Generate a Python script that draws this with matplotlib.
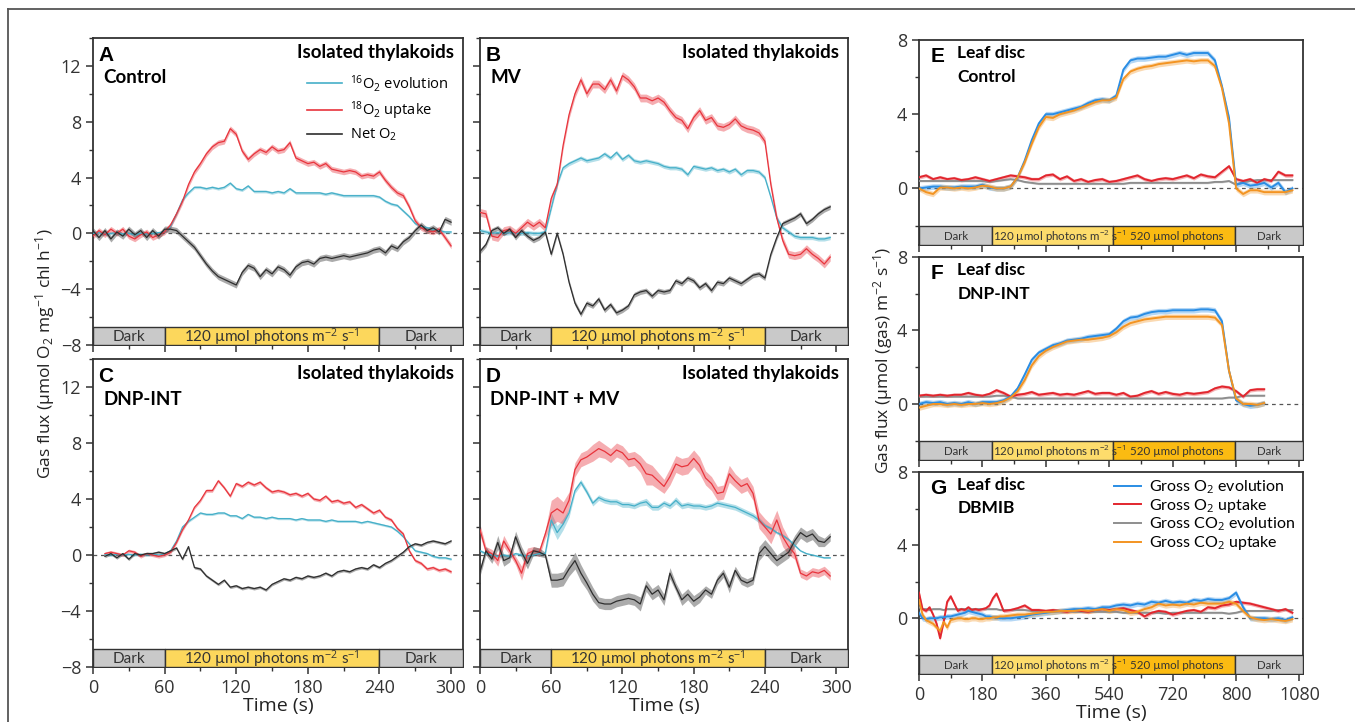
import numpy as np
import matplotlib
matplotlib.use("Agg")
import matplotlib.pyplot as plt
from matplotlib.ticker import MultipleLocator
from matplotlib.lines import Line2D

plt.rcParams["font.family"] = ["Open Sans", "DejaVu Sans"]
plt.rcParams["mathtext.fontset"] = "custom"
plt.rcParams["mathtext.rm"] = "Open Sans"
plt.rcParams["mathtext.it"] = "Open Sans:italic"
plt.rcParams["mathtext.bf"] = "Open Sans:bold"

# ---------------- isolated thylakoids (A-D), umol O2 mg-1 chl h-1 ----------------
t_a = np.arange(0, 301, 5)
a_evo = [0.0, 0.05, -0.05, 0.0, 0.05, -0.05, 0.0, -0.1, 0.0, -0.05, 0.0, 0.05,
         0.1, 0.5, 1.4, 2.4, 2.9, 3.3, 3.3, 3.2, 3.3, 3.2, 3.3, 3.6,
         3.2, 3.1, 3.4, 3.0, 3.0, 3.0, 2.9, 3.0, 2.9, 3.2, 2.9, 2.9,
         2.9, 2.9, 2.9, 2.8, 2.9, 2.8, 2.7, 2.7, 2.7, 2.7, 2.7, 2.7,
         2.6, 2.3, 2.1, 2.0, 1.6, 1.2, 0.7, 0.5, 0.4, 0.3, 0.2, 0.1, 0.1]
a_upt = [-0.2, 0.2, -0.1, 0.3, 0.0, 0.3, -0.2, -0.4, -0.1, 0.1, -0.3, -0.1,
         0.1, 0.6, 1.4, 2.3, 3.5, 4.4, 5.0, 5.7, 6.2, 6.5, 6.6, 7.5,
         7.1, 5.9, 5.3, 5.7, 6.0, 5.8, 6.2, 5.9, 6.0, 6.5, 5.4, 5.2,
         5.0, 5.1, 4.8, 5.0, 4.6, 4.5, 4.4, 4.5, 4.4, 4.1, 4.2, 4.1,
         4.4, 3.8, 3.3, 2.9, 2.7, 1.9, 0.9, 0.4, 0.2, 0.1, 0.3, -0.3, -0.9]
a_net = [0.2, -0.3, 0.2, -0.4, 0.1, -0.2, 0.3, -0.1, 0.2, -0.3, 0.2, -0.2,
         0.3, 0.3, 0.2, -0.2, -0.6, -1.0, -1.6, -2.2, -2.7, -3.1, -3.3, -3.5,
         -3.7, -2.8, -2.3, -2.5, -3.1, -2.6, -2.9, -2.4, -2.6, -3.0, -2.4, -2.1,
         -2.0, -2.2, -1.8, -1.7, -1.8, -1.7, -1.6, -1.7, -1.6, -1.5, -1.4, -1.2,
         -1.1, -1.4, -0.9, -1.1, -0.6, -0.3, 0.2, 0.6, 0.2, 0.4, 0.1, 1.0, 0.8]
a_se = [0.1, 0.2, 0.22]

t_b = np.arange(0, 296, 5)
b_evo = [0.2, 0.1, 0.0, 0.05, 0.0, 0.05, 0.0, 0.0, 0.05, 0.0, 0.0, 0.1,
         1.8, 3.5, 4.7, 5.0, 5.2, 5.4, 5.2, 5.3, 5.4, 5.7, 5.4, 5.8,
         5.3, 5.6, 5.2, 5.1, 5.2, 5.1, 5.0, 4.8, 4.7, 4.7, 4.6, 4.2,
         4.8, 4.7, 4.6, 4.7, 4.5, 4.6, 4.4, 4.6, 4.2, 4.5, 4.5, 4.4,
         4.0, 2.6, 1.1, 0.4, 0.1, -0.2, -0.3, -0.3, -0.3, -0.4, -0.4, -0.3]
b_upt = [1.5, 1.4, -0.2, -0.3, 0.2, 0.3, 0.0, 0.4, 0.8, 0.5, 0.8, 0.4,
         2.5, 3.5, 6.3, 8.5, 10.0, 11.0, 10.0, 10.7, 10.7, 10.3, 11.0, 10.2,
         11.3, 11.0, 10.5, 9.7, 9.7, 9.5, 9.7, 9.4, 8.8, 8.3, 8.1, 7.5,
         8.3, 8.8, 8.1, 8.3, 7.7, 7.6, 7.8, 8.2, 7.7, 7.5, 7.4, 7.2,
         6.6, 3.5, 1.1, -0.5, -1.5, -1.6, -1.5, -1.1, -1.5, -1.8, -2.2, -1.7]
b_net = [-1.3, -0.8, 0.2, 0.4, 0.0, 0.3, -0.3, 0.2, -0.2, -0.5, -0.3, 0.1,
         -1.5, 0.0, -1.5, -3.5, -5.0, -5.8, -5.0, -5.2, -4.7, -5.5, -5.1, -5.7,
         -5.5, -5.2, -4.4, -4.2, -4.1, -4.5, -4.1, -4.2, -4.1, -3.4, -3.6, -3.2,
         -3.4, -3.9, -3.6, -4.1, -3.5, -3.6, -3.2, -3.4, -3.6, -3.3, -3.0, -2.9,
         -3.2, -1.5, -0.3, 0.7, 0.9, 1.1, 1.4, 0.7, 1.0, 1.4, 1.7, 1.9]
b_se = [0.15, 0.28, 0.18]

t_c = np.arange(10, 301, 5)
c_evo = [0.05, 0.0, 0.05, 0.0, 0.05, 0.0, 0.05, 0.0, 0.05, 0.0,
         0.05, 0.3, 1.0, 2.0, 2.4, 2.7, 3.0, 2.9, 2.9, 3.0, 3.0, 2.8,
         2.8, 2.6, 2.9, 2.7, 2.7, 2.6, 2.7, 2.6, 2.6, 2.6, 2.5, 2.6,
         2.5, 2.5, 2.5, 2.4, 2.5, 2.4, 2.4, 2.4, 2.4, 2.3, 2.4, 2.3,
         2.2, 2.1, 2.0, 1.7, 1.3, 0.8, 0.3, 0.2, 0.1, -0.1, -0.2, -0.2, -0.3]
c_upt = [0.1, 0.2, 0.1, 0.0, 0.3, 0.2, -0.1, 0.1, 0.0, -0.1,
         0.0, 0.2, 0.9, 1.8, 2.5, 3.4, 3.9, 4.6, 4.6, 5.3, 4.8, 4.2,
         5.1, 4.9, 5.2, 5.0, 5.2, 4.8, 4.5, 4.6, 4.5, 4.3, 4.4, 4.2,
         4.4, 4.0, 3.9, 4.2, 3.8, 3.9, 3.7, 3.8, 3.4, 3.6, 3.3, 3.0,
         3.2, 2.7, 2.5, 1.9, 1.5, 0.3, -0.4, -0.6, -1.0, -0.9, -1.1, -1.0, -1.2]
c_net = [-0.1, 0.1, -0.2, 0.1, -0.3, 0.1, 0.0, 0.1, 0.1, 0.2,
         0.1, 0.3, 0.5, -0.3, 0.6, -0.9, -1.0, -1.5, -1.8, -2.1, -1.8, -2.3,
         -2.2, -2.4, -2.3, -2.4, -2.3, -2.5, -2.1, -1.9, -1.7, -1.8, -1.6, -1.7,
         -1.5, -1.6, -1.5, -1.3, -1.5, -1.2, -1.1, -1.2, -1.0, -0.9, -1.0, -0.7,
         -0.9, -0.6, -0.4, -0.1, 0.2, 0.6, 0.8, 0.7, 0.9, 1.0, 0.9, 0.8, 1.0]
c_se = [0.08, 0.12, 0.1]

t_d = np.arange(0, 296, 5)
d_evo = [0.3, 0.1, 0.0, -0.1, 0.0, -0.1, 0.1, 0.0, -0.1, 0.0, 0.1, 0.1,
         2.5, 1.6, 2.2, 3.0, 4.6, 5.2, 4.5, 3.7, 4.1, 3.9, 3.8, 3.8,
         3.6, 3.6, 3.5, 3.7, 3.8, 3.4, 3.4, 3.7, 3.5, 3.9, 3.5, 3.6,
         3.5, 3.5, 3.4, 3.5, 3.7, 3.6, 3.5, 3.4, 3.2, 3.0, 2.8, 2.5,
         2.1, 1.9, 1.6, 1.4, 1.1, 0.7, 0.3, 0.1, 0.0, -0.1, -0.2, -0.2]
d_upt = [1.8, 0.3, 0.1, -0.4, 1.0, 0.3, -0.4, -1.3, 0.1, 0.3, 0.2, 1.5,
         3.0, 3.3, 3.0, 3.9, 6.1, 6.8, 7.0, 7.3, 7.6, 7.4, 7.1, 7.5,
         7.3, 6.8, 6.9, 6.5, 5.8, 5.7, 5.3, 4.9, 5.6, 6.5, 6.3, 6.4,
         6.9, 6.4, 5.5, 5.1, 4.4, 4.5, 5.8, 5.3, 4.9, 5.1, 4.4, 2.5,
         2.0, 1.5, 2.5, 1.3, 0.6, 0.1, -1.3, -1.5, -1.2, -1.3, -1.1, -1.5]
d_net = [-1.2, 0.3, -0.3, 0.9, -0.4, -0.2, 1.3, 0.2, -0.6, 0.3, 0.2, 0.0,
         -1.8, -1.8, -1.7, -1.0, -0.4, -1.3, -2.0, -2.8, -3.4, -3.5, -3.5, -3.3,
         -3.2, -3.1, -3.2, -3.5, -2.2, -2.8, -2.5, -3.2, -1.3, -2.3, -3.2, -2.8,
         -3.3, -3.0, -2.5, -2.8, -1.8, -1.3, -2.3, -1.1, -1.8, -2.0, -1.8, 0.1,
         0.6, 0.1, -0.4, -0.1, 0.2, 1.0, 1.6, 1.3, 1.5, 1.0, 0.9, 1.3]
d_evo_se = [0.1, 0.1, 0.1, 0.1, 0.1, 0.1, 0.1, 0.1, 0.1, 0.1, 0.1, 0.1,
            0.5, 0.5, 0.4, 0.3, 0.2, 0.2, 0.2, 0.2, 0.2, 0.2, 0.2, 0.2,
            0.2, 0.2, 0.2, 0.2, 0.25, 0.2, 0.2, 0.2, 0.2, 0.25, 0.2, 0.2,
            0.2, 0.2, 0.2, 0.2, 0.2, 0.2, 0.2, 0.2, 0.2, 0.2, 0.2, 0.2,
            0.15, 0.1, 0.1, 0.1, 0.1, 0.1, 0.05, 0.05, 0.05, 0.05, 0.05, 0.05]
d_upt_se = [0.4, 0.3, 0.3, 0.4, 0.4, 0.3, 0.3, 0.5, 0.4, 0.3, 0.3, 0.3,
            0.9, 0.9, 0.8, 0.6, 0.5, 0.5, 0.5, 0.6, 0.6, 0.5, 0.5, 0.5,
            0.5, 0.5, 0.5, 0.6, 0.8, 0.7, 0.6, 0.5, 0.6, 0.6, 0.6, 0.6,
            0.6, 0.6, 0.5, 0.5, 0.5, 0.5, 0.6, 0.5, 0.5, 0.5, 0.5, 0.6,
            0.6, 0.7, 0.7, 0.7, 0.6, 0.4, 0.3, 0.3, 0.3, 0.3, 0.3, 0.3]
d_net_se = [0.3, 0.3, 0.3, 0.5, 0.4, 0.3, 0.4, 0.4, 0.4, 0.3, 0.3, 0.2,
            0.5, 0.5, 0.5, 0.5, 0.6, 0.6, 0.5, 0.5, 0.4, 0.4, 0.4, 0.4,
            0.4, 0.4, 0.4, 0.5, 0.4, 0.4, 0.4, 0.4, 0.4, 0.3, 0.4, 0.4,
            0.4, 0.4, 0.3, 0.3, 0.3, 0.3, 0.4, 0.3, 0.3, 0.3, 0.3, 0.5,
            0.5, 0.5, 0.4, 0.4, 0.4, 0.4, 0.4, 0.4, 0.4, 0.4, 0.3, 0.3]

thyl_phase_start = [0, 60, 240]
thyl_phase_end = [60, 240, 310]
thyl_phase_label = ["Dark", "120 µmol photons m$^{-2}$ s$^{-1}$", "Dark"]

# ---------------- leaf discs (E-G), umol gas m-2 s-1 ----------------
t_e = np.arange(0, 1061, 20)
e_o2_evo = [0.0, 0.05, 0.1, 0.1, 0.05, 0.05, 0.1, 0.1, 0.1, 0.2,
            0.05, 0.0, 0.0, 0.1, 0.6, 1.5, 2.6, 3.5, 4.0, 4.0,
            4.1, 4.2, 4.3, 4.4, 4.6, 4.75, 4.8, 4.75, 5.0, 6.4,
            6.9, 7.0, 7.0, 7.05, 7.1, 7.1, 7.2, 7.3, 7.2, 7.3,
            7.3, 7.3, 6.9, 5.5, 3.8, 0.2, 0.3, 0.15, 0.2, 0.3,
            0.05, 0.3, -0.2, 0.0]
e_o2_upt = [0.6, 0.7, 0.5, 0.6, 0.5, 0.55, 0.45, 0.5, 0.6, 0.5,
            0.4, 0.5, 0.6, 0.7, 0.65, 0.6, 0.5, 0.5, 0.7, 0.75,
            0.5, 0.65, 0.4, 0.5, 0.35, 0.45, 0.5, 0.35, 0.4, 0.5,
            0.6, 0.7, 0.5, 0.4, 0.5, 0.55, 0.5, 0.6, 0.7, 0.55,
            0.75, 0.65, 0.6, 0.9, 1.2, 0.5, 0.4, 0.5, 0.3, 0.5,
            0.4, 0.9, 0.7, 0.7]
e_co2_evo = [0.4, 0.4, 0.4, 0.4, 0.4, 0.4, 0.4, 0.4, 0.4, 0.4,
             0.35, 0.4, 0.45, 0.5, 0.45, 0.35, 0.3, 0.25, 0.25, 0.25,
             0.25, 0.25, 0.25, 0.25, 0.25, 0.25, 0.25, 0.25, 0.25, 0.25,
             0.3, 0.3, 0.3, 0.3, 0.3, 0.3, 0.3, 0.3, 0.3, 0.3,
             0.3, 0.3, 0.35, 0.35, 0.4, 0.2, 0.35, 0.4, 0.45, 0.45,
             0.45, 0.45, 0.45, 0.45]
e_co2_upt = [0.0, -0.2, -0.3, 0.05, 0.05, 0.0, 0.05, 0.0, 0.05, 0.15,
             0.1, 0.0, 0.0, 0.1, 0.6, 1.4, 2.4, 3.3, 3.85, 3.8,
             4.0, 4.1, 4.2, 4.35, 4.5, 4.65, 4.75, 4.75, 4.9, 5.9,
             6.3, 6.45, 6.55, 6.6, 6.7, 6.75, 6.8, 6.85, 6.9, 6.85,
             6.9, 6.9, 6.6, 5.4, 3.5, 0.0, -0.3, -0.1, -0.1, -0.2,
             -0.2, -0.2, -0.2, -0.1]

t_f = np.arange(0, 981, 20)
f_o2_evo = [0.0, 0.1, 0.05, 0.1, 0.0, 0.05, 0.0, 0.1, 0.0, 0.1,
            0.1, 0.1, 0.2, 0.4, 0.85, 1.6, 2.4, 2.8, 3.0, 3.2,
            3.3, 3.45, 3.5, 3.55, 3.65, 3.7, 3.75, 3.8, 4.1, 4.5,
            4.7, 4.75, 4.9, 5.0, 5.05, 5.05, 5.1, 5.1, 5.1, 5.1,
            5.15, 5.15, 5.1, 4.5, 1.8, 0.2, 0.0, -0.1, -0.05, 0.05]
f_o2_upt = [0.45, 0.5, 0.45, 0.5, 0.45, 0.5, 0.5, 0.6, 0.5, 0.45,
            0.55, 0.75, 0.6, 0.4, 0.5, 0.55, 0.65, 0.5, 0.55, 0.6,
            0.5, 0.55, 0.5, 0.6, 0.7, 0.55, 0.6, 0.6, 0.5, 0.6,
            0.4, 0.45, 0.6, 0.7, 0.55, 0.65, 0.55, 0.5, 0.6, 0.55,
            0.6, 0.65, 0.85, 0.95, 0.9, 0.7, 0.4, 0.75, 0.8, 0.8]
f_co2_evo = [0.4, 0.4, 0.4, 0.4, 0.4, 0.4, 0.4, 0.4, 0.4, 0.4,
             0.4, 0.45, 0.45, 0.4, 0.3, 0.3, 0.3, 0.3, 0.3, 0.3,
             0.3, 0.3, 0.3, 0.3, 0.3, 0.3, 0.3, 0.3, 0.3, 0.3,
             0.3, 0.3, 0.3, 0.3, 0.3, 0.3, 0.3, 0.3, 0.3, 0.3,
             0.3, 0.3, 0.3, 0.3, 0.35, 0.35, 0.45, 0.45, 0.45, 0.45]
f_co2_upt = [-0.2, -0.1, 0.0, 0.0, -0.05, 0.0, -0.05, 0.0, 0.0, 0.05,
             0.0, 0.05, 0.15, 0.35, 0.7, 1.3, 2.1, 2.6, 2.9, 3.1,
             3.25, 3.4, 3.45, 3.5, 3.5, 3.55, 3.6, 3.7, 3.9, 4.2,
             4.4, 4.5, 4.6, 4.65, 4.7, 4.75, 4.75, 4.75, 4.75, 4.75,
             4.75, 4.75, 4.7, 4.3, 1.8, 0.3, 0.0, 0.0, -0.05, 0.05]

t_g = np.concatenate([np.arange(0, 231, 10), np.arange(240, 1061, 20)])
g_o2_evo = [0.3, 0.0, -0.05, 0.0, 0.0, 0.0, 0.05, 0.05, 0.1, 0.1, 0.15, 0.2,
            0.25, 0.3, 0.4, 0.35, 0.3, 0.25, 0.2, 0.1, 0.1, 0.05, 0.05, 0.0,
            0.0, 0.0, 0.05, 0.1, 0.2, 0.25, 0.3, 0.35, 0.4, 0.45,
            0.5, 0.5, 0.55, 0.5, 0.6, 0.6, 0.7, 0.75, 0.7, 0.8,
            0.75, 0.9, 0.85, 0.95, 0.85, 0.9, 0.85, 1.0, 0.95, 1.05,
            1.0, 1.0, 1.1, 1.4, 0.6, 0.0, 0.0, 0.0, -0.05, 0.0,
            -0.1, 0.05]
g_o2_upt = [1.4, 0.5, 0.4, 0.6, 0.2, -0.3, -1.1, -0.2, 0.9, 1.2, 0.8, 0.4,
            0.5, 0.45, 0.6, 0.45, 0.5, 0.45, 0.5, 0.55, 0.7, 1.1, 1.35, 0.9,
            0.4, 0.45, 0.55, 0.7, 0.45, 0.45, 0.4, 0.45, 0.4, 0.35,
            0.45, 0.4, 0.35, 0.45, 0.5, 0.45, 0.5, 0.55, 0.45, 0.35,
            0.1, 0.3, 0.4, 0.35, 0.2, 0.3, 0.4, 0.45, 0.35, 0.6,
            0.55, 0.7, 0.75, 0.9, 0.85, 0.8, 0.7, 0.6, 0.5, 0.4,
            0.5, 0.3]
g_co2_evo = [0.6, 0.5, 0.5, 0.45, 0.5, 0.5, 0.5, 0.45, 0.5, 0.5, 0.5, 0.5,
             0.5, 0.5, 0.45, 0.5, 0.5, 0.5, 0.5, 0.5, 0.5, 0.5, 0.5, 0.45,
             0.45, 0.45, 0.45, 0.45, 0.4, 0.4, 0.4, 0.4, 0.4, 0.4,
             0.35, 0.35, 0.35, 0.35, 0.35, 0.35, 0.35, 0.3, 0.3, 0.3,
             0.3, 0.3, 0.3, 0.25, 0.3, 0.3, 0.3, 0.3, 0.3, 0.3,
             0.3, 0.3, 0.25, 0.3, 0.4, 0.4, 0.4, 0.4, 0.4, 0.45,
             0.45, 0.45]
g_co2_upt = [1.0, 0.2, -0.1, -0.2, -0.3, -0.5, -0.7, -0.2, -0.5, -0.1, -0.05, 0.0,
             0.0, -0.05, -0.05, 0.0, 0.0, -0.05, -0.05, 0.0, 0.0, 0.05, 0.05, 0.1,
             0.1, 0.15, 0.2, 0.2, 0.25, 0.3, 0.35, 0.35, 0.4, 0.4,
             0.4, 0.45, 0.4, 0.45, 0.5, 0.4, 0.5, 0.45, 0.3, 0.35,
             0.5, 0.6, 0.8, 0.7, 0.75, 0.7, 0.8, 0.75, 0.85, 0.8,
             0.8, 0.8, 0.9, 0.8, 0.4, 0.05, -0.05, -0.1, -0.05, -0.1,
             -0.15, -0.05]
leaf_se = [0.15, 0.1, 0.05, 0.15]   # O2 evo, O2 upt, CO2 evo, CO2 upt

leaf_phase_start = [0, 208, 550, 898]
leaf_phase_end = [208, 550, 898, 1090]
leaf_phase_label = ["Dark", "120 µmol photons m$^{-2}$ s$^{-1}$", "520 µmol photons", "Dark"]
leaf_xticks = [0, 180, 360, 540, 720, 900, 1080]
leaf_xticklabels = ["0", "180", "360", "540", "720", "800", "1080"]

# ---------------- style ----------------
C_EVO, C_UPT, C_NET = "#45afc8", "#e8343c", "#2e2e2e"
L_BLUE, L_RED, L_GREY, L_ORANGE = "#2a8de4", "#e2262e", "#8e8e8e", "#f39422"
BAR_GREY, BAR_YEL, BAR_ORG = "#c9c9c9", "#fcd75c", "#fbbb12"
SPINE = "#333333"
BOLD = ["Lato", "DejaVu Sans"]


def style_axes(ax):
    for s in ax.spines.values():
        s.set_color(SPINE)
        s.set_linewidth(1.3)
    ax.tick_params(which="major", direction="out", length=5, width=1.1,
                   colors=SPINE, labelsize=13, top=False, right=False)
    ax.tick_params(which="minor", direction="out", length=3, width=1.0,
                   colors=SPINE, top=False, right=False)


def phase_bar(ax, starts, ends, labels, colors, y0, h, fs, family, leaf=False):
    for i, (s, e, lab, c) in enumerate(zip(starts, ends, labels, colors)):
        ax.broken_barh([(s, e - s)], (y0, h), facecolors=c, edgecolors="#333333",
                       linewidth=1.0, zorder=5)
        if leaf and i == 1:
            ax.text(s + 3, y0 + h * 0.45, lab, ha="left", va="center",
                    fontsize=fs, color="#333333", zorder=6, family=family)
        elif leaf and i == 2:
            ax.text((s + e) / 2 + 9, y0 + h * 0.45, lab, ha="center", va="center",
                    fontsize=fs, color="#333333", zorder=6, family=family)
        else:
            ax.text((s + e) / 2, y0 + h * 0.45, lab, ha="center", va="center",
                    fontsize=fs, color="#333333", zorder=6, family=family)


def thyl_panel(ax, t, series, ses, letter, cond, xlabels):
    ax.set_xlim(0, 310)
    ax.set_ylim(-8, 14)
    ax.axhline(0, color="#555555", lw=0.9, ls=(0, (3, 3)), zorder=1)
    for y, se, c in zip(series, ses, (C_EVO, C_UPT, C_NET)):
        y = np.asarray(y)
        ax.fill_between(t, y - se, y + se, color=c, alpha=0.4, lw=0, zorder=2)
        ax.plot(t, y, color=c, lw=0.9, zorder=3)
    phase_bar(ax, thyl_phase_start, thyl_phase_end, thyl_phase_label,
              [BAR_GREY, BAR_YEL, BAR_GREY], -8, 1.3, 11, BOLD)
    ax.set_xticks([0, 60, 120, 180, 240, 300])
    ax.set_yticks([-8, -4, 0, 4, 8, 12])
    ax.xaxis.set_minor_locator(MultipleLocator(30))
    ax.yaxis.set_minor_locator(MultipleLocator(2))
    style_axes(ax)
    if xlabels:
        ax.set_xlabel("Time (s)", fontsize=14, labelpad=0, color="#222222")
    else:
        ax.tick_params(labelbottom=False)
    ax.text(0.015, 0.975, letter, transform=ax.transAxes, ha="left", va="top",
            fontsize=15, fontweight="bold", family=["Liberation Sans", "DejaVu Sans"])
    ax.text(0.028, 0.87, cond, transform=ax.transAxes, ha="left", va="center",
            fontsize=13.5, fontweight="bold", family=BOLD)
    ax.text(0.975, 0.952, "Isolated thylakoids", transform=ax.transAxes,
            ha="right", va="center", fontsize=13.5, fontweight="bold", family=BOLD)


def leaf_panel(ax, t, series, letter, cond, xlabels):
    ax.set_xlim(0, 1090)
    ax.set_ylim(-3.05, 8)
    ax.axhline(0, color="#555555", lw=0.9, ls=(0, (3, 3)), zorder=1)
    order = [2, 1, 0, 3]
    cols = [L_BLUE, L_RED, L_GREY, L_ORANGE]
    for k in order:
        y = np.asarray(series[k])
        ax.fill_between(t, y - leaf_se[k], y + leaf_se[k], color=cols[k],
                        alpha=0.35, lw=0, zorder=2)
        ax.plot(t, y, color=cols[k], lw=1.4, zorder=3)
    phase_bar(ax, leaf_phase_start, leaf_phase_end, leaf_phase_label,
              [BAR_GREY, "#fddc6c", BAR_ORG, BAR_GREY], -3.05, 1.03, 8.3, BOLD,
              leaf=True)
    ax.set_xticks(leaf_xticks)
    ax.set_yticks([0, 4, 8])
    ax.xaxis.set_minor_locator(MultipleLocator(90))
    ax.yaxis.set_minor_locator(MultipleLocator(2))
    style_axes(ax)
    if xlabels:
        ax.set_xticklabels(leaf_xticklabels)
        ax.set_xlabel("Time (s)", fontsize=14, labelpad=0, color="#222222")
    else:
        ax.tick_params(labelbottom=False)
    ax.text(0.03, 0.918, letter, transform=ax.transAxes, ha="left", va="center",
            fontsize=15, fontweight="bold", family=["Liberation Sans", "DejaVu Sans"])
    ax.text(0.10, 0.935, "Leaf disc", transform=ax.transAxes, ha="left",
            va="center", fontsize=12.5, fontweight="bold", family=BOLD)
    ax.text(0.10, 0.82, cond, transform=ax.transAxes, ha="left",
            va="center", fontsize=12.5, fontweight="bold", family=BOLD)


W, H = 1355, 722
fig = plt.figure(figsize=(W / 100, H / 100), dpi=100)


def box(l, t, r, b):
    return [l / W, 1 - b / H, (r - l) / W, (b - t) / H]


axA = fig.add_axes(box(93, 38, 463, 345))
axB = fig.add_axes(box(480, 38, 848, 345))
axC = fig.add_axes(box(93, 359, 463, 667))
axD = fig.add_axes(box(480, 359, 848, 667))
axE = fig.add_axes(box(919, 40, 1303, 245))
axF = fig.add_axes(box(919, 257, 1303, 460))
axG = fig.add_axes(box(919, 472, 1303, 674))

thyl_panel(axA, t_a, [a_evo, a_upt, a_net], a_se, "A", "Control", False)
thyl_panel(axB, t_b, [b_evo, b_upt, b_net], b_se, "B", "MV", False)
thyl_panel(axC, t_c, [c_evo, c_upt, c_net], c_se, "C", "DNP-INT", True)
thyl_panel(axD, t_d, [d_evo, d_upt, d_net],
           [np.asarray(d_evo_se), np.asarray(d_upt_se), np.asarray(d_net_se)],
           "D", "DNP-INT + MV", True)
for ax in (axB, axD):
    ax.tick_params(labelleft=False)

leaf_panel(axE, t_e, [e_o2_evo, e_o2_upt, e_co2_evo, e_co2_upt], "E", "Control", False)
leaf_panel(axF, t_f, [f_o2_evo, f_o2_upt, f_co2_evo, f_co2_upt], "F", "DNP-INT", False)
leaf_panel(axG, t_g, [g_o2_evo, g_o2_upt, g_co2_evo, g_co2_upt], "G", "DBMIB", True)

# legends
hA = [Line2D([], [], color=C_EVO, lw=1.2), Line2D([], [], color=C_UPT, lw=1.2),
      Line2D([], [], color=C_NET, lw=1.2)]
axA.legend(hA, ["$^{16}$O$_2$ evolution", "$^{18}$O$_2$ uptake", "Net O$_2$"],
           loc="upper right", bbox_to_anchor=(0.975, 0.905), frameon=False,
           fontsize=10.5, handlelength=2.4, handletextpad=0.5, labelspacing=0.35,
           borderaxespad=0)
hG = [Line2D([], [], color=c, lw=1.4) for c in (L_BLUE, L_RED, L_GREY, L_ORANGE)]
axG.legend(hG, ["Gross O$_2$ evolution", "Gross O$_2$ uptake",
                "Gross CO$_2$ evolution", "Gross CO$_2$ uptake"],
           loc="upper right", bbox_to_anchor=(0.995, 1.0), frameon=False,
           prop={"family": "Lato", "size": 11.5}, handlelength=1.7,
           handletextpad=0.45, labelspacing=0.05, borderaxespad=0)

fig.text(45 / W, 1 - 354 / H, "Gas flux (µmol O$_2$ mg$^{-1}$ chl h$^{-1}$)",
         rotation=90, ha="center", va="center", fontsize=12.5, color="#222222")
fig.text(883 / W, 1 - 360 / H, "Gas flux (µmol (gas) m$^{-2}$ s$^{-1}$)",
         rotation=90, ha="center", va="center", fontsize=12.5, color="#222222")

# outer frame
fig.add_artist(Line2D([8 / W, 1], [1 - 9 / H, 1 - 9 / H], transform=fig.transFigure,
                      color="#555555", lw=1.3))
fig.add_artist(Line2D([8 / W, 8 / W], [0, 1 - 9 / H], transform=fig.transFigure,
                      color="#555555", lw=1.3))

fig.savefig("out.png", dpi=100)
